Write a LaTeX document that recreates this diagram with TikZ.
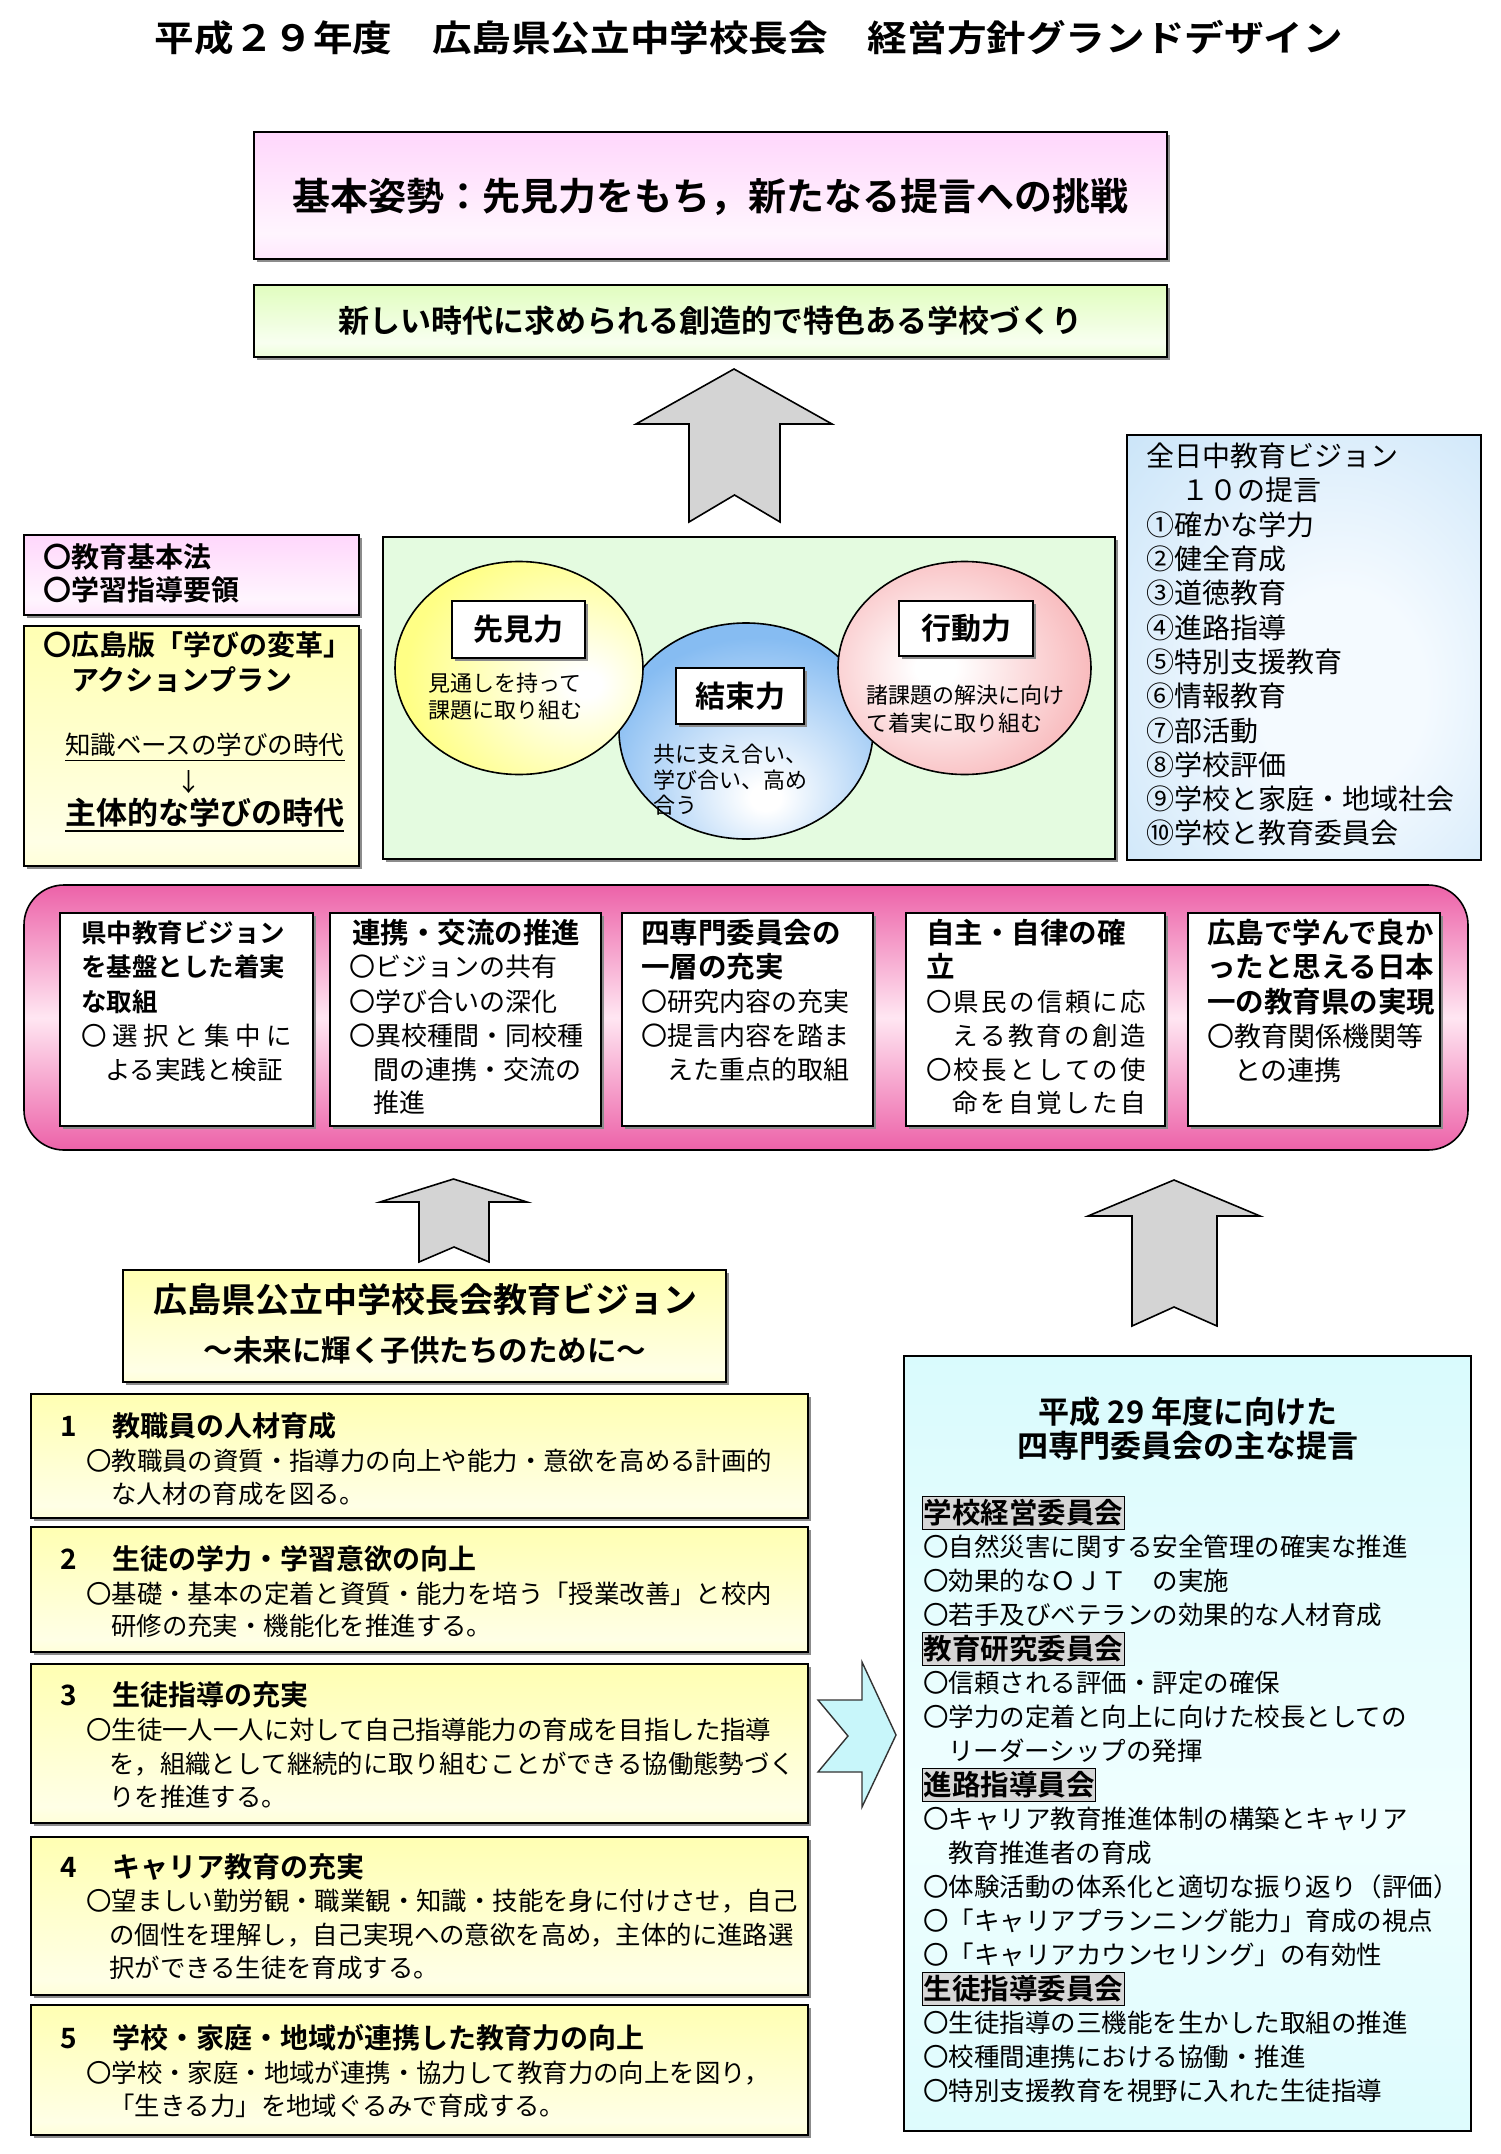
\documentclass[tikz,border=0pt]{standalone}
\usepackage{fontspec}
\setmainfont{Noto Sans CJK JP}[BoldFont={Noto Sans CJK JP Bold}]
\usetikzlibrary{shapes.geometric,shadows}

\definecolor{pk}{HTML}{FFC4FA}
\definecolor{pkpale}{HTML}{FFF5FE}
\definecolor{gr}{HTML}{D2FCA0}
\definecolor{grpale}{HTML}{F8FFF0}
\definecolor{yl}{HTML}{FFFF96}
\definecolor{ylpale}{HTML}{FFFFE6}
\definecolor{mag}{HTML}{E6338E}
\definecolor{magpale}{HTML}{FFE6F2}
\definecolor{cy}{HTML}{C6F7FB}
\definecolor{cypale}{HTML}{F0FFFF}
\definecolor{lb}{HTML}{B6DAF5}
\definecolor{lbpale}{HTML}{F4FAFF}
\definecolor{lgr}{HTML}{E4FBE0}
\definecolor{ellY}{HTML}{FFFF85}
\definecolor{ellB}{HTML}{86BCF2}
\definecolor{ellP}{HTML}{F7ADB0}
\definecolor{arrg}{HTML}{D4D4D4}
\definecolor{arrc}{HTML}{C8F6FA}
\definecolor{labg}{HTML}{D6D6D6}

\pgfdeclareverticalshading{pksh}{100bp}{color(0bp)=(pk); color(35bp)=(pkpale); color(100bp)=(pk)}
\pgfdeclareverticalshading{grsh}{100bp}{color(0bp)=(gr); color(35bp)=(grpale); color(100bp)=(gr)}
\pgfdeclareverticalshading{ysh}{100bp}{color(0bp)=(yl); color(30bp)=(ylpale); color(100bp)=(yl)}
\pgfdeclareverticalshading{cysh}{100bp}{color(0bp)=(cy); color(45bp)=(cypale); color(100bp)=(cy)}
\pgfdeclareverticalshading{bandsh}{100bp}{color(0bp)=(mag); color(16bp)=(mag); color(50bp)=(magpale); color(84bp)=(mag); color(100bp)=(mag)}
\pgfdeclareradialshading{bsh}{\pgfpoint{6bp}{-6bp}}{color(0bp)=(lbpale); color(12bp)=(lbpale); color(55bp)=(lb); color(90bp)=(lb)}
\pgfdeclareradialshading{eYsh}{\pgfpoint{14bp}{-4bp}}{color(0bp)=(white); color(3bp)=(white); color(32bp)=(ellY); color(90bp)=(ellY)}
\pgfdeclareradialshading{eBsh}{\pgfpoint{4bp}{-16bp}}{color(0bp)=(white); color(3bp)=(white); color(32bp)=(ellB); color(90bp)=(ellB)}
\pgfdeclareradialshading{ePsh}{\pgfpoint{-6bp}{0bp}}{color(0bp)=(white); color(4bp)=(white); color(34bp)=(ellP); color(90bp)=(ellP)}

\newcommand\FS[1]{\fontsize{#1}{#1}\selectfont}
% text line: name, x, y-center, size, style, text
\newcommand\Tx[6]{\node[anchor=base west,inner sep=0pt,font=\FS{#4}#5] (#1) at (#2,{#3+0.38*#4}) {#6};}
\newcommand\Tc[6]{\node[anchor=base,inner sep=0pt,font=\FS{#4}#5] (#1) at (#2,{#3+0.38*#4}) {#6};}
% box: name, x1, y1, x2, y2, style
\newcommand\Bx[6]{\node[box,#6,minimum width={#4-#2},minimum height={#5-#3}] (#1) at ({(#2+#4)/2},{(#3+#5)/2}) {};}

\tikzset{
  box/.style={draw=black,line width=1.6pt,inner sep=0pt,outer sep=0pt,rectangle},
  shd/.style={drop shadow={opacity=1,fill=black!45,shadow xshift=3pt,shadow yshift=-3pt}},
  garrow/.style={draw=black,line width=1.6pt,fill=arrg,line join=miter},
  carrow/.style={draw=black!80,line width=1.4pt,fill=arrc,line join=miter},
  elab/.style={draw=black,line width=1.6pt,fill=white,inner sep=0pt,shd,font=\FS{30}\bfseries},
  sect/.style={anchor=west,draw=black,line width=1.4pt,fill=labg,font=\FS{28.5}\bfseries,inner xsep=1pt,inner ysep=0pt,minimum height=33pt},
  ell/.style={ellipse,draw=black,line width=1.6pt,inner sep=0pt}
}

\begin{document}
\begin{tikzpicture}[x=1pt,y=-1pt]
\useasboundingbox (0,0) rectangle (1500,2154);
\fill[white] (0,0) rectangle (1500,2154);

% ---------- title ----------
\Tc{title}{749}{38}{36}{\bfseries}{\scalebox{1.1}[1]{平成２９年度　広島県公立中学校長会　経営方針グランドデザイン}}

% ---------- top boxes ----------
\Bx{kihon}{254}{132}{1167}{259}{shading=pksh,shd}
\Tc{kihont}{710.5}{196}{38}{\bfseries}{基本姿勢：先見力をもち，新たなる提言への挑戦}
\Bx{atara}{254}{285}{1167}{357}{shading=grsh,shd}
\Tc{atarat}{710.5}{321}{31}{\bfseries}{新しい時代に求められる創造的で特色ある学校づくり}

% up arrow 1
\draw[garrow] (734,369) -- (832,424) -- (780,424) -- (780,522) -- (734.5,495) -- (689,522) -- (689,424) -- (636,424) -- cycle;

% ---------- left boxes ----------
\Bx{lpink}{24}{535}{359}{615}{shading=pksh,shd}
\Tx{lp1}{43}{557}{28}{\bfseries}{〇教育基本法}
\Tx{lp2}{43}{590}{28}{\bfseries}{〇学習指導要領}

\Bx{lyel}{24}{626}{359}{866}{shading=ysh,shd}
\Tx{ly1}{43}{645}{28}{\bfseries}{〇広島版「学びの変革」}
\Tx{ly2}{43}{680}{28}{\bfseries}{　アクションプラン}
\Tx{ly3}{65}{745}{25.5}{}{知識ベースの学びの時代}
\draw[line width=1.5pt] ([yshift=-6pt]ly3.base west) -- ([yshift=-6pt]ly3.base east);
\Tc{ly4}{189}{782}{25}{}{↓}
\Tx{ly5}{65}{813}{31}{\bfseries}{主体的な学びの時代}
\draw[line width=1.8pt] ([yshift=-6pt]ly5.base west) -- ([yshift=-6pt]ly5.base east);

% ---------- centre ----------
\Bx{cgreen}{383}{537}{1115}{859}{fill=lgr,shd}
\node[ell,shading=eBsh,minimum width=254pt,minimum height=216pt] (eB) at (746,731) {};
\node[ell,shading=eYsh,minimum width=248pt,minimum height=213pt] (eY) at (519,668) {};
\node[ell,shading=ePsh,minimum width=253pt,minimum height=213pt] (eP) at (964.5,668) {};
\node[elab,minimum width=133pt,minimum height=57pt] (senken) at (518.5,629.5) {先見力};
\node[elab,minimum width=128pt,minimum height=56pt] (kessoku) at (740,696) {結束力};
\node[elab,minimum width=134pt,minimum height=55pt] (kodo) at (966,628.5) {行動力};
\Tx{eY1}{428}{683}{22}{}{見通しを持って}
\Tx{eY2}{428}{710}{22}{}{課題に取り組む}
\Tx{eB1}{653}{754}{22}{}{共に支え合い、}
\Tx{eB2}{653}{780}{22}{}{学び合い、高め}
\Tx{eB3}{653}{805}{22}{}{合う}
\Tx{eP1}{866}{695}{22}{}{諸課題の解決に向け}
\Tx{eP2}{866}{723}{22}{}{て着実に取り組む}

% ---------- right box ----------
\Bx{rbox}{1127}{435}{1481}{860}{shading=bsh}
\Tx{r0}{1146}{456}{28}{}{全日中教育ビジョン}
\Tx{r1}{1181}{490.3}{28}{}{１０の提言}
\Tx{r2}{1146}{524.6}{28}{}{①確かな学力}
\Tx{r3}{1146}{558.9}{28}{}{②健全育成}
\Tx{r4}{1146}{593.2}{28}{}{③道徳教育}
\Tx{r5}{1146}{627.5}{28}{}{④進路指導}
\Tx{r6}{1146}{661.8}{28}{}{⑤特別支援教育}
\Tx{r7}{1146}{696.1}{28}{}{⑥情報教育}
\Tx{r8}{1146}{730.4}{28}{}{⑦部活動}
\Tx{r9}{1146}{764.7}{28}{}{⑧学校評価}
\Tx{r10}{1146}{799}{28}{}{⑨学校と家庭・地域社会}
\Tx{r11}{1146}{833.3}{28}{}{⑩学校と教育委員会}

% ---------- band ----------
\node[box,rounded corners=40pt,shading=bandsh,minimum width=1444pt,minimum height=265pt] (band) at (746,1017.5) {};
\Bx{c1}{60}{913}{313}{1126}{fill=white,shd}
\Bx{c2}{330}{913}{601}{1126}{fill=white,shd}
\Bx{c3}{622}{913}{873}{1126}{fill=white,shd}
\Bx{c4}{906}{913}{1165}{1126}{fill=white,shd}
\Bx{c5}{1188}{913}{1440}{1126}{fill=white,shd}

\Tx{c1a}{81}{933}{25.5}{\bfseries}{県中教育ビジョン}
\Tx{c1b}{81}{967}{25.5}{\bfseries}{を基盤とした着実}
\Tx{c1c}{81}{1002}{25.5}{\bfseries}{な取組}
\Tx{c1d}{81}{1036}{25.5}{}{\makebox[211pt][s]{〇\hfill 選\hfill 択\hfill と\hfill 集\hfill 中\hfill に}}
\Tx{c1e}{105}{1070}{25.5}{}{よる実践と検証}

\Tx{c2a}{352}{933}{28.5}{\bfseries}{連携・交流の推進}
\Tx{c2b}{349}{967}{26}{}{〇ビジョンの共有}
\Tx{c2c}{349}{1002}{26}{}{〇学び合いの深化}
\Tx{c2d}{349}{1036}{26}{}{〇異校種間・同校種}
\Tx{c2e}{373}{1070}{26}{}{間の連携・交流の}
\Tx{c2f}{373}{1103}{26}{}{推進}

\Tx{c3a}{641}{933}{28.5}{\bfseries}{四専門委員会の}
\Tx{c3b}{641}{967}{28.5}{\bfseries}{一層の充実}
\Tx{c3c}{641}{1002}{26}{}{〇研究内容の充実}
\Tx{c3d}{641}{1036}{26}{}{〇提言内容を踏ま}
\Tx{c3e}{667}{1070}{26}{}{えた重点的取組}

\Tx{c4a}{926}{933}{28.5}{\bfseries}{自主・自律の確}
\Tx{c4b}{926}{967}{28.5}{\bfseries}{立}
\Tx{c4c}{926}{1002}{25.5}{}{\makebox[220pt][s]{〇\hfill 県\hfill 民\hfill の\hfill 信\hfill 頼\hfill に\hfill 応}}
\Tx{c4d}{952}{1036}{25.5}{}{\makebox[194pt][s]{え\hfill る\hfill 教\hfill 育\hfill の\hfill 創\hfill 造}}
\Tx{c4e}{926}{1070}{25.5}{}{\makebox[220pt][s]{〇\hfill 校\hfill 長\hfill と\hfill し\hfill て\hfill の\hfill 使}}
\Tx{c4f}{952}{1103}{25.5}{}{\makebox[194pt][s]{命\hfill を\hfill 自\hfill 覚\hfill し\hfill た\hfill 自}}

\Tx{c5a}{1207}{933}{28.5}{\bfseries}{広島で学んで良か}
\Tx{c5b}{1207}{967}{28.5}{\bfseries}{ったと思える日本}
\Tx{c5c}{1207}{1002}{28.5}{\bfseries}{一の教育県の実現}
\Tx{c5d}{1207}{1036}{27}{}{〇教育関係機関等}
\Tx{c5e}{1234}{1070}{27}{}{との連携}

% up arrows 2 and 3
\draw[garrow] (453.5,1179) -- (527,1202) -- (489,1202) -- (489,1262) -- (454,1247) -- (419,1262) -- (419,1202) -- (380,1202) -- cycle;
\draw[garrow] (1174,1180) -- (1260,1216) -- (1217,1216) -- (1217,1326) -- (1174,1307) -- (1132,1326) -- (1132,1216) -- (1088,1216) -- cycle;

% ---------- vision ----------
\Bx{vis}{123}{1270}{726}{1382}{shading=ysh,shd}
\Tc{vis1}{425}{1300}{34}{\bfseries}{広島県公立中学校長会教育ビジョン}
\Tc{vis2}{425}{1350}{29.5}{\bfseries}{～未来に輝く子供たちのために～}

\Bx{y1}{31}{1394}{808}{1518}{shading=ysh,shd}
\Bx{y2}{31}{1527}{808}{1652}{shading=ysh,shd}
\Bx{y3}{31}{1664}{808}{1823}{shading=ysh,shd}
\Bx{y4}{31}{1837}{808}{1995}{shading=ysh,shd}
\Bx{y5}{31}{2005}{808}{2135}{shading=ysh,shd}

\Tx{y1n}{60}{1426}{28}{\bfseries}{1}
\Tx{y1h}{112}{1426}{28}{\bfseries}{教職員の人材育成}
\Tx{y1a}{86}{1461}{25.4}{}{〇教職員の資質・指導力の向上や能力・意欲を高める計画的}
\Tx{y1b}{111}{1494}{25.4}{}{な人材の育成を図る。}

\Tx{y2n}{60}{1559}{28}{\bfseries}{2}
\Tx{y2h}{112}{1559}{28}{\bfseries}{生徒の学力・学習意欲の向上}
\Tx{y2a}{86}{1594}{25.4}{}{〇基礎・基本の定着と資質・能力を培う「授業改善」と校内}
\Tx{y2b}{111}{1626}{25.4}{}{研修の充実・機能化を推進する。}

\Tx{y3n}{60}{1695}{28}{\bfseries}{3}
\Tx{y3h}{112}{1695}{28}{\bfseries}{生徒指導の充実}
\Tx{y3a}{86}{1730}{25.4}{}{〇生徒一人一人に対して自己指導能力の育成を目指した指導}
\Tx{y3b}{109}{1764}{25.4}{}{\makebox[682pt][s]{を，\hfill 組\hfill 織\hfill と\hfill し\hfill て\hfill 継\hfill 続\hfill 的\hfill に\hfill 取\hfill り\hfill 組\hfill む\hfill こ\hfill と\hfill が\hfill で\hfill き\hfill る\hfill 協\hfill 働\hfill 態\hfill 勢\hfill づ\hfill く}}
\Tx{y3c}{109}{1797}{25.4}{}{りを推進する。}

\Tx{y4n}{60}{1867}{28}{\bfseries}{4}
\Tx{y4h}{112}{1867}{28}{\bfseries}{キャリア教育の充実}
\Tx{y4a}{86}{1901}{25.4}{}{〇望ましい勤労観・職業観・知識・技能を身に付けさせ，自己}
\Tx{y4b}{109}{1935}{25.4}{}{の個性を理解し，自己実現への意欲を高め，主体的に進路選}
\Tx{y4c}{109}{1968}{25.4}{}{択ができる生徒を育成する。}

\Tx{y5n}{60}{2038}{28}{\bfseries}{5}
\Tx{y5h}{112}{2038}{28}{\bfseries}{学校・家庭・地域が連携した教育力の向上}
\Tx{y5a}{86}{2073}{25.4}{}{〇学校・家庭・地域が連携・協力して教育力の向上を図り，}
\Tx{y5b}{109}{2106}{25.4}{}{「生きる力」を地域ぐるみで育成する。}

% right-pointing arrow
\draw[carrow] (818,1700) -- (862,1700) -- (862,1662) -- (896,1735) -- (862,1807) -- (862,1772) -- (818,1772) -- (848,1736) -- cycle;

% ---------- proposals box ----------
\Bx{cyb}{904}{1356}{1471}{2131}{shading=cysh}
\Tc{cyt1}{1188}{1412}{31}{\bfseries}{平成 29 年度に向けた}
\Tc{cyt2}{1188}{1446}{31}{\bfseries}{四専門委員会の主な提言}

\node[sect] (s1) at (922,1513) {学校経営委員会};
\Tx{p1}{923}{1547}{25.5}{}{〇自然災害に関する安全管理の確実な推進}
\Tx{p2}{923}{1581}{25.5}{}{〇効果的なＯＪＴ　の実施}
\Tx{p3}{923}{1615}{25.5}{}{〇若手及びベテランの効果的な人材育成}
\node[sect] (s2) at (922,1649) {教育研究委員会};
\Tx{p5}{923}{1683}{25.5}{}{〇信頼される評価・評定の確保}
\Tx{p6}{923}{1717}{25.5}{}{〇学力の定着と向上に向けた校長としての}
\Tx{p7}{948}{1751}{25.5}{}{リーダーシップの発揮}
\node[sect] (s3) at (922,1785) {進路指導員会};
\Tx{p9}{923}{1819}{25.5}{}{〇キャリア教育推進体制の構築とキャリア}
\Tx{p10}{948}{1853}{25.5}{}{教育推進者の育成}
\Tx{p11}{923}{1887}{25.5}{}{〇体験活動の体系化と適切な振り返り（評価）}
\Tx{p12}{923}{1921}{25.5}{}{〇「キャリアプランニング能力」育成の視点}
\Tx{p13}{923}{1955}{25.5}{}{〇「キャリアカウンセリング」の有効性}
\node[sect] (s4) at (922,1989) {生徒指導委員会};
\Tx{p15}{923}{2023}{25.5}{}{〇生徒指導の三機能を生かした取組の推進}
\Tx{p16}{923}{2057}{25.5}{}{〇校種間連携における協働・推進}
\Tx{p17}{923}{2091}{25.5}{}{〇特別支援教育を視野に入れた生徒指導}

\end{tikzpicture}
\end{document}
